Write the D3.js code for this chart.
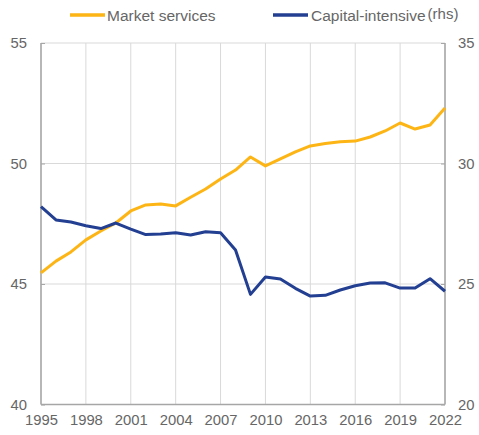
<!DOCTYPE html>
<html>
<head>
<meta charset="utf-8">
<script src="https://cdn.jsdelivr.net/npm/d3@7"></script>
<style>
  body { margin: 0; background: #fff; }
  text { font-family: "Liberation Sans", Arial, sans-serif; fill: #666; }
</style>
</head>
<body>
<div id="chart"></div>
<script>
//////////////////////////////////////////////////////////////
/////////////////////////// Data /////////////////////////////
//////////////////////////////////////////////////////////////

var years = d3.range(1995, 2023);

// Market services, left axis
var marketServices = [45.46, 45.95, 46.33, 46.83, 47.2, 47.53, 48.03, 48.28, 48.32, 48.24,
    48.6, 48.94, 49.36, 49.73, 50.27, 49.9, 50.19, 50.48, 50.73, 50.83,
    50.9, 50.93, 51.1, 51.35, 51.68, 51.43, 51.6, 52.3];

// Capital-intensive, right axis
var capitalIntensive = [28.21, 27.66, 27.57, 27.42, 27.3, 27.53, 27.28, 27.05, 27.07, 27.13,
    27.03, 27.17, 27.13, 26.41, 24.57, 25.29, 25.21, 24.82, 24.5, 24.53,
    24.75, 24.93, 25.04, 25.05, 24.83, 24.83, 25.22, 24.7];

var xTicks = [1995, 1998, 2001, 2004, 2007, 2010, 2013, 2016, 2019, 2022];
var yTicksLeft = [40, 45, 50, 55];
var yTicksRight = [20, 25, 30, 35];

//////////////////////////////////////////////////////////////
///////////////////// General settings ///////////////////////
//////////////////////////////////////////////////////////////

var W = 479, H = 435;
var margin = {top: 43, right: 34, bottom: 30, left: 41};
var width = W - margin.left - margin.right;
var height = H - margin.top - margin.bottom - 0.5;

var orange = "#fdb515";
var blue = "#233f91";
var gridColor = "#d9d9d9";
var axisColor = "#a6a6a6";

var svg = d3.select("#chart").append("svg")
    .attr("width", W)
    .attr("height", H);

var g = svg.append("g")
    .attr("transform", "translate(" + margin.left + "," + margin.top + ")");

//////////////////////////////////////////////////////////////
///////////////////// Scales & Axes //////////////////////////
//////////////////////////////////////////////////////////////

var xScale = d3.scaleLinear().domain([1995, 2022]).range([0, width]);
var yLeft = d3.scaleLinear().domain([40, 55]).range([height, 0]);
var yRight = d3.scaleLinear().domain([20, 35]).range([height, 0]);

// grid
g.append("g").selectAll("line.vgrid")
    .data(xTicks).enter()
    .append("line")
        .attr("x1", d => xScale(d)).attr("x2", d => xScale(d))
        .attr("y1", 0).attr("y2", height)
        .attr("stroke", gridColor);

g.append("g").selectAll("line.hgrid")
    .data(yTicksLeft.slice(1)).enter()
    .append("line")
        .attr("x1", 0).attr("x2", width)
        .attr("y1", d => yLeft(d)).attr("y2", d => yLeft(d))
        .attr("stroke", gridColor);

// axes
var xAxis = d3.axisBottom(xScale).tickValues(xTicks).tickFormat(d3.format("d")).tickSize(0).tickPadding(10);
var axL = d3.axisLeft(yLeft).tickValues(yTicksLeft).tickSize(-4).tickPadding(14);
var axR = d3.axisRight(yRight).tickValues(yTicksRight).tickSize(-4).tickPadding(13);

function styleAxis(sel) {
    sel.select(".domain").remove();
    sel.selectAll("line").attr("stroke", axisColor);
    sel.selectAll("text").style("font-size", "14.8px").attr("fill", "#666")
        .style("font-family", "'Liberation Sans', Arial, sans-serif");
}

g.append("g").attr("transform", "translate(0," + height + ")").call(xAxis).call(styleAxis);
g.append("g").call(axL).call(styleAxis);
g.append("g").attr("transform", "translate(" + width + ",0)").call(axR).call(styleAxis);

// axis lines
g.append("line").attr("x1", 0).attr("x2", 0).attr("y1", 0).attr("y2", height)
    .attr("stroke", axisColor).attr("stroke-width", 1.5);
g.append("line").attr("x1", width).attr("x2", width).attr("y1", 0).attr("y2", height)
    .attr("stroke", axisColor).attr("stroke-width", 1.5);
g.append("line").attr("x1", 0).attr("x2", width).attr("y1", height).attr("y2", height)
    .attr("stroke", axisColor).attr("stroke-width", 1.5);

//////////////////////////////////////////////////////////////
/////////////////////////// Lines ////////////////////////////
//////////////////////////////////////////////////////////////

var lineLeft = d3.line()
    .x((d, i) => xScale(years[i]))
    .y(d => yLeft(d));
var lineRight = d3.line()
    .x((d, i) => xScale(years[i]))
    .y(d => yRight(d));

g.append("path").datum(marketServices)
    .attr("d", lineLeft)
    .attr("fill", "none").attr("stroke", orange)
    .attr("stroke-width", 3).attr("stroke-linejoin", "round");

g.append("path").datum(capitalIntensive)
    .attr("d", lineRight)
    .attr("fill", "none").attr("stroke", blue)
    .attr("stroke-width", 3).attr("stroke-linejoin", "round");

//////////////////////////////////////////////////////////////
////////////////////////// Legend ////////////////////////////
//////////////////////////////////////////////////////////////

var legend = svg.append("g").attr("class", "legend");

legend.append("line").attr("x1", 70).attr("x2", 105).attr("y1", 15).attr("y2", 15)
    .attr("stroke", orange).attr("stroke-width", 3.5);
legend.append("text").attr("x", 107).attr("y", 20.5)
    .style("font-size", "15.5px").text("Market services");

legend.append("line").attr("x1", 273).attr("x2", 308).attr("y1", 15).attr("y2", 15)
    .attr("stroke", blue).attr("stroke-width", 3.5);
var t2 = legend.append("text").attr("x", 311).attr("y", 20.5)
    .style("font-size", "15.5px").text("Capital-intensive");
t2.append("tspan").attr("dx", 2).attr("dy", -2).style("font-size", "15px").text("(rhs)");
</script>
</body>
</html>
